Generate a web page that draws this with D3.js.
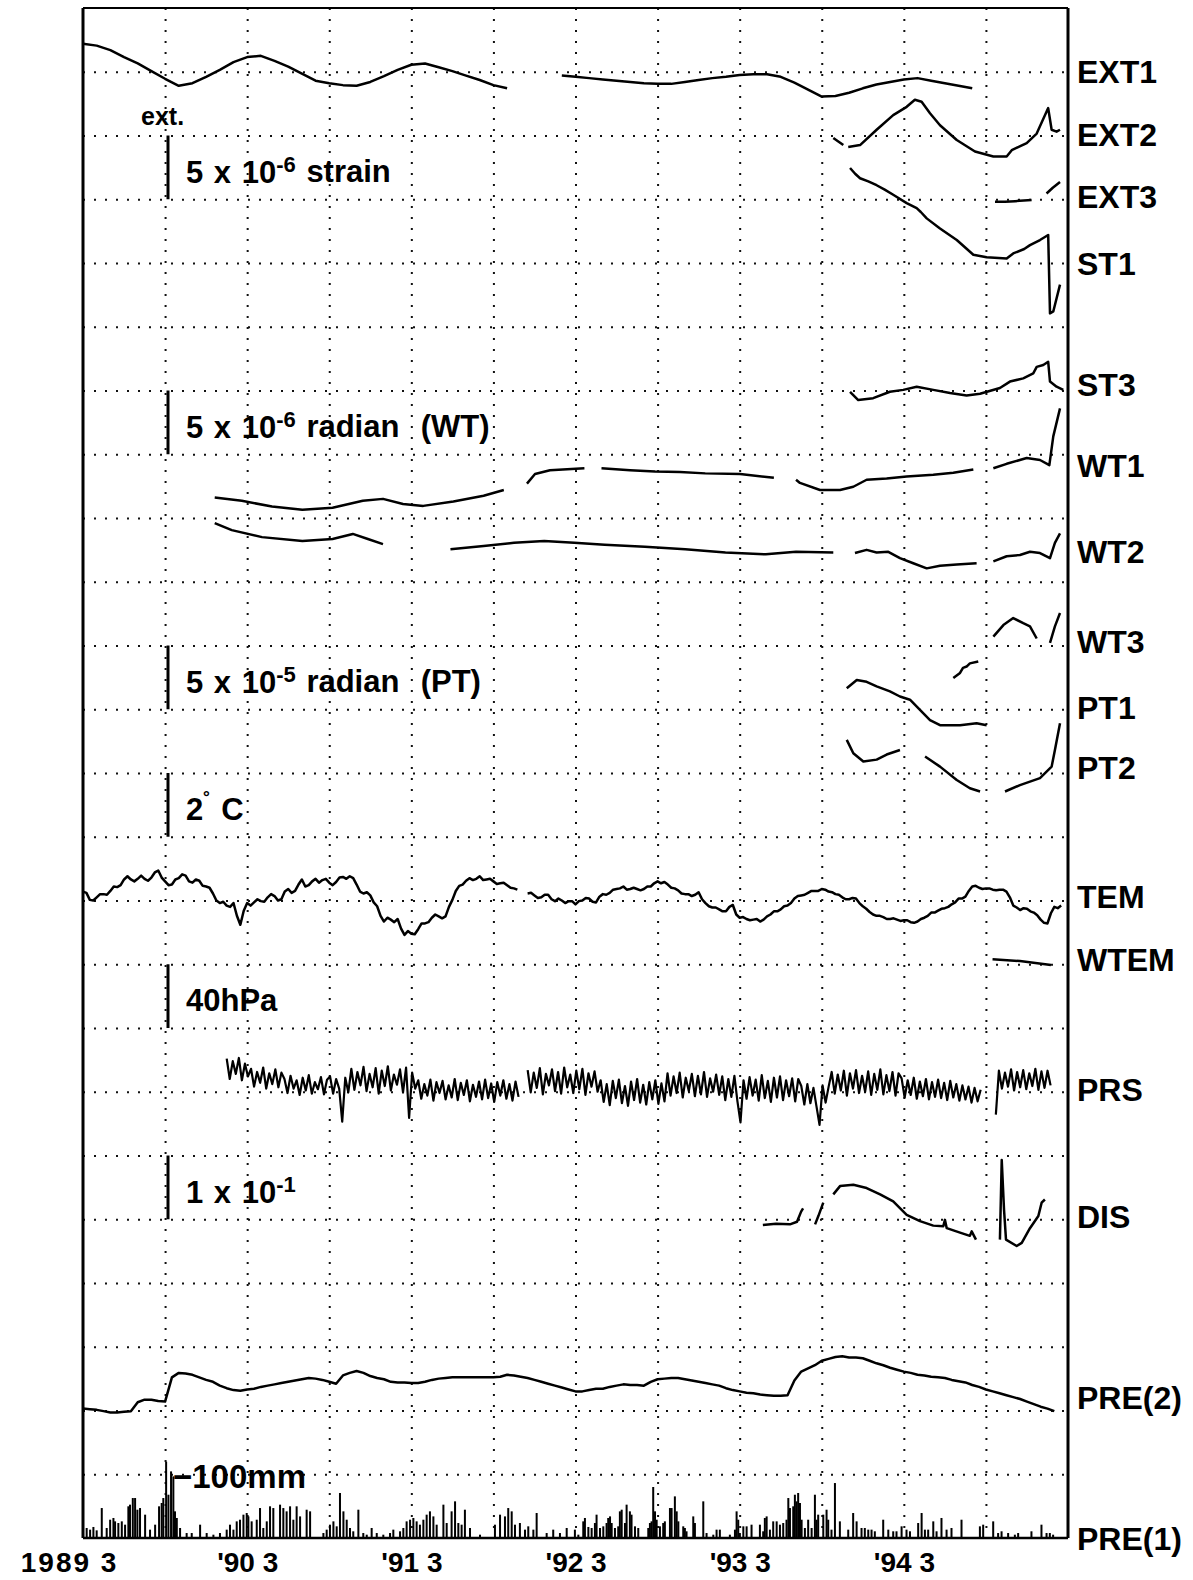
<!DOCTYPE html>
<html>
<head>
<meta charset="utf-8">
<script src="https://cdn.jsdelivr.net/npm/d3@7"></script>
<style>
body { margin: 0; background: #fff; }
svg { display: block; background: #fff; }
text { font-family: "Liberation Sans", Arial, Helvetica, sans-serif; font-weight: bold; fill: #000; white-space: pre; }
</style>
</head>
<body>
<div id="chart"></div>
<script>
// tick labels along the time axis (decimal years, March of each year)
var xTickYears = [1989.167, 1990.167, 1991.167, 1992.167, 1993.167, 1994.167];
var xTickLabels = ["1989 3", "'90 3", "'91 3", "'92 3", "'93 3", "'94 3"];

var traceNames = ["EXT1", "EXT2", "EXT3", "ST1", "ST3", "WT1", "WT2", "WT3",
                  "PT1", "PT2", "TEM", "WTEM", "PRS", "DIS", "PRE(2)", "PRE(1)"];

// values are in divisions of each trace's scale bar, positive = up
// EXT1: monthly from 1989-03
var ext1 = [0.44, 0.41, 0.34, 0.23, 0.13, 0.01, -0.11, -0.22, -0.18, -0.08, 0.03, 0.15,
  0.23, 0.25, 0.17, 0.08, -0.03, -0.14, -0.18, -0.21, -0.22, -0.16, -0.07, 0.03,
  0.11, 0.13, 0.07, 0.01, -0.06, -0.13, -0.21, -0.26, null, null, null, -0.06,
  -0.08, -0.10, -0.12, -0.14, -0.16, -0.18, -0.19, -0.19, -0.16, -0.13, -0.10, -0.08,
  -0.05, -0.04, -0.04, -0.08, -0.17, -0.28, -0.39, -0.38, -0.33, -0.26, -0.20, -0.16,
  -0.12, -0.10, -0.14, -0.18, -0.22, -0.26];

// [year, value] pairs, null = gap in record
var ext2 = [[1993.737, -0.04], [1993.798, -0.15], null, [1993.828, -0.18], [1993.900, -0.15],
  [1994.001, 0.09], [1994.102, 0.32], [1994.184, 0.45], [1994.234, 0.56], [1994.275, 0.53],
  [1994.326, 0.35], [1994.387, 0.16], [1994.489, -0.07], [1994.600, -0.25], [1994.712, -0.33],
  [1994.793, -0.33], [1994.824, -0.23], [1994.915, -0.12], [1994.976, 0.03], [1995.046, 0.43],
  [1995.067, 0.09], [1995.097, 0.06], [1995.118, 0.09]];

var ext3 = [[1994.722, -0.04], [1994.783, -0.04], [1994.844, -0.03], [1994.945, -0.01], null,
  [1995.036, 0.09], [1995.074, 0.18], [1995.118, 0.27]];

var st1 = [[1993.839, 1.49], [1993.870, 1.40], [1993.900, 1.33], [1993.950, 1.28], [1994.001, 1.22],
  [1994.050, 1.15], [1994.102, 1.07], [1994.184, 0.94], [1994.245, 0.86], [1994.270, 0.80],
  [1994.306, 0.70], [1994.387, 0.54], [1994.489, 0.36], [1994.590, 0.13], [1994.671, 0.09],
  [1994.793, 0.07], [1994.833, 0.15], [1994.900, 0.22], [1994.935, 0.28], [1994.996, 0.36],
  [1995.046, 0.44], [1995.057, -0.79], [1995.077, -0.76], [1995.118, -0.34]];

var st3 = [[1993.839, -0.02], [1993.889, -0.15], [1993.980, -0.12], [1994.082, -0.02],
  [1994.163, 0.01], [1994.245, 0.06], [1994.346, 0.01], [1994.448, -0.04], [1994.549, -0.08],
  [1994.631, -0.05], [1994.752, 0.04], [1994.813, 0.14], [1994.894, 0.19], [1994.955, 0.27],
  [1994.976, 0.37], [1995.016, 0.40], [1995.046, 0.45], [1995.057, 0.14], [1995.097, 0.06],
  [1995.138, 0.01]];

var wt1 = [[1989.969, -0.68], [1990.134, -0.73], [1990.318, -0.82], [1990.503, -0.87],
  [1990.687, -0.84], [1990.871, -0.73], [1990.994, -0.70], [1991.116, -0.78], [1991.239, -0.81],
  [1991.423, -0.74], [1991.607, -0.65], [1991.730, -0.56], null,
  [1991.871, -0.46], [1991.920, -0.31], [1992.011, -0.25], [1992.221, -0.22], null,
  [1992.325, -0.22], [1992.499, -0.25], [1992.651, -0.27], [1992.803, -0.28], [1992.957, -0.30],
  [1993.169, -0.31], [1993.375, -0.37], null,
  [1993.510, -0.40], [1993.534, -0.45], [1993.656, -0.56], [1993.778, -0.56], [1993.859, -0.51],
  [1993.940, -0.40], [1994.062, -0.38], [1994.184, -0.35], [1994.346, -0.32], [1994.468, -0.29],
  [1994.590, -0.24], null,
  [1994.712, -0.22], [1994.793, -0.15], [1994.915, -0.06], [1994.996, -0.09], [1995.053, -0.17],
  [1995.077, 0.28], [1995.118, 0.72]];

var wt2 = [[1989.969, 0.92], [1990.073, 0.81], [1990.257, 0.70], [1990.503, 0.64], [1990.687, 0.67],
  [1990.810, 0.75], [1990.902, 0.67], [1990.994, 0.59], null,
  [1991.405, 0.51], [1991.607, 0.56], [1991.792, 0.61], [1991.976, 0.64], [1992.159, 0.61],
  [1992.344, 0.58], [1992.589, 0.55], [1992.835, 0.51], [1993.080, 0.46], [1993.326, 0.43],
  [1993.510, 0.47], [1993.737, 0.46], null,
  [1993.869, 0.45], [1993.940, 0.50], [1994.001, 0.46], [1994.072, 0.47], [1994.143, 0.37],
  [1994.224, 0.29], [1994.306, 0.21], [1994.387, 0.25], [1994.489, 0.27], [1994.610, 0.29], null,
  [1994.712, 0.32], [1994.793, 0.40], [1994.874, 0.42], [1994.935, 0.47], [1994.996, 0.45],
  [1995.057, 0.37], [1995.087, 0.61], [1995.118, 0.76]];

var wt3 = [[1994.468, -0.51], [1994.509, -0.43], [1994.527, -0.35], [1994.549, -0.33],
  [1994.569, -0.28], [1994.620, -0.25], null,
  [1994.712, 0.14], [1994.773, 0.32], [1994.833, 0.43], [1994.894, 0.35], [1994.935, 0.30],
  [1994.976, 0.11], null, [1995.057, 0.04], [1995.087, 0.30], [1995.118, 0.51]];

var pt1 = [[1993.819, 0.33], [1993.880, 0.46], [1993.940, 0.43], [1994.001, 0.36], [1994.082, 0.28],
  [1994.143, 0.20], [1994.204, 0.15], [1994.265, -0.01], [1994.326, -0.17], [1994.387, -0.25],
  [1994.509, -0.25], [1994.610, -0.22], [1994.671, -0.25]];

var pt2 = [[1993.819, 0.52], [1993.859, 0.31], [1993.920, 0.18], [1994.001, 0.21], [1994.062, 0.29],
  [1994.143, 0.36], null,
  [1994.296, 0.26], [1994.387, 0.10], [1994.489, -0.11], [1994.569, -0.24], [1994.631, -0.29], null,
  [1994.783, -0.29], [1994.874, -0.19], [1994.996, -0.08], [1995.067, 0.10], [1995.087, 0.36],
  [1995.118, 0.78]];

// TEM: every 1/48 year from 1989-03
var tem = [0.14, 0.12, 0.01, 0.00, 0.05, 0.10, 0.10, 0.09, 0.15, 0.22, 0.21, 0.24,
  0.33, 0.38, 0.33, 0.30, 0.34, 0.39, 0.34, 0.31, 0.36, 0.44, 0.47, 0.36,
  0.30, 0.24, 0.25, 0.33, 0.35, 0.41, 0.39, 0.30, 0.28, 0.33, 0.31, 0.23,
  0.22, 0.20, 0.11, 0.00, -0.04, -0.02, -0.08, -0.10, -0.04, -0.24, -0.38, -0.16,
  -0.04, -0.08, -0.03, 0.02, -0.01, -0.02, 0.05, 0.10, 0.07, 0.00, 0.02, 0.14,
  0.18, 0.12, 0.15, 0.25, 0.33, 0.22, 0.24, 0.30, 0.34, 0.28, 0.32, 0.34,
  0.28, 0.24, 0.29, 0.36, 0.37, 0.34, 0.38, 0.35, 0.25, 0.14, 0.11, 0.13,
  0.08, -0.03, -0.09, -0.24, -0.33, -0.27, -0.30, -0.34, -0.29, -0.44, -0.54, -0.48,
  -0.52, -0.53, -0.45, -0.36, -0.36, -0.34, -0.27, -0.22, -0.25, -0.28, -0.25, -0.10,
  0.01, 0.15, 0.23, 0.25, 0.31, 0.35, 0.32, 0.34, 0.38, 0.32, 0.33, 0.34,
  0.30, 0.26, 0.27, 0.28, 0.24, 0.20, 0.19, 0.17, null, null, 0.11, 0.12,
  0.08, 0.04, 0.05, 0.09, 0.09, 0.02, -0.01, 0.03, 0.00, -0.04, -0.01, -0.01,
  -0.06, -0.01, 0.00, 0.04, 0.03, -0.02, -0.03, 0.06, 0.10, 0.09, 0.12, 0.17,
  0.18, 0.19, 0.22, 0.17, 0.18, 0.20, 0.18, 0.16, 0.18, 0.22, 0.22, 0.27,
  0.30, 0.27, 0.29, 0.25, 0.20, 0.19, 0.16, 0.11, 0.10, 0.10, 0.07, 0.09,
  0.13, 0.02, -0.04, -0.09, -0.11, -0.11, -0.14, -0.17, -0.17, -0.10, -0.07, -0.22,
  -0.27, -0.26, -0.29, -0.31, -0.30, -0.29, -0.33, -0.30, -0.25, -0.22, -0.17, -0.17,
  -0.14, -0.09, -0.08, -0.04, 0.03, 0.07, 0.08, 0.09, 0.12, 0.15, 0.15, 0.15,
  0.18, 0.17, 0.14, 0.13, 0.10, 0.09, 0.05, 0.02, 0.02, 0.04, 0.03, -0.04,
  -0.09, -0.13, -0.18, -0.22, -0.24, -0.24, -0.26, -0.29, -0.29, -0.28, -0.30, -0.32,
  -0.31, -0.31, -0.34, -0.35, -0.33, -0.29, -0.27, -0.24, -0.19, -0.19, -0.16, -0.13,
  -0.12, -0.10, -0.06, -0.03, 0.03, 0.03, 0.06, 0.15, 0.22, 0.23, 0.20, 0.18,
  0.19, 0.19, 0.17, 0.16, 0.17, 0.17, 0.14, 0.05, -0.08, -0.11, -0.15, -0.12,
  -0.13, -0.17, -0.19, -0.23, -0.30, -0.35, -0.36, -0.20, -0.10, -0.12, -0.08];

var wtem = [[1994.707, 0.08], [1994.874, 0.05], [1995.063, -0.01]];

// PRS: every 1/54 year from 1990.042
var prs = [0.52, 0.20, 0.48, 0.28, 0.53, 0.18, 0.44, 0.24,
  0.36, 0.08, 0.31, 0.14, 0.38, 0.05, 0.29, 0.12, 0.35, 0.07, 0.30,
  0.20, -0.02, 0.25, 0.05, 0.18, -0.05, 0.22, 0.02, 0.26, -0.03, 0.15, 0.04, 0.23, -0.04, 0.19,
  0.24, -0.03, 0.20, 0.05, -0.47, 0.22, -0.01,
  0.36, 0.03, 0.31, 0.10, 0.39, 0.01, 0.28, 0.07, 0.37, -0.03, 0.33, 0.09, 0.40, 0.02, 0.27,
  0.11, 0.35, -0.01, 0.38, -0.41, 0.30, 0.05,
  0.18, -0.11, 0.12, -0.06, 0.19, -0.14, 0.15, -0.02, 0.17, -0.12, 0.10, -0.09, 0.20, -0.13,
  0.14, -0.05, 0.18, -0.15, 0.11, -0.08, 0.16, -0.12, 0.19, -0.10, 0.13, -0.16, 0.15, -0.06,
  0.18, -0.11, 0.12, -0.14, 0.16, -0.08,
  null, null,
  0.34, -0.01, 0.30, 0.06, 0.37, -0.04, 0.28, 0.10, 0.35, 0.01, 0.31, -0.03, 0.38, 0.07,
  0.27, -0.02, 0.33, 0.04, 0.36, -0.05, 0.29, 0.08, 0.32, 0.00,
  0.18, -0.16, 0.12, -0.21, 0.17, -0.10, 0.19, -0.18, 0.09, -0.22, 0.16, -0.13, 0.20, -0.17,
  0.11, -0.20, 0.15, -0.12, 0.18, -0.19, 0.13, -0.15,
  0.29, -0.06, 0.24, -0.02, 0.30, -0.09, 0.22, 0.01, 0.28, -0.07, 0.25, -0.04, 0.31, -0.08,
  0.21, 0.00, 0.27, -0.05,
  0.24, -0.13, 0.20, -0.08, 0.25, -0.15, -0.48, 0.18, -0.11, 0.23, -0.06, 0.19, -0.14, 0.26,
  -0.10, 0.17, -0.16, 0.22, -0.09, 0.24, -0.13, 0.18, -0.07, 0.21, -0.15, 0.20,
  0.09, -0.20, 0.12, -0.18, 0.06, -0.23, -0.52, 0.10, -0.17, 0.08,
  0.31, -0.03, 0.27, 0.02, 0.33, -0.06, 0.29, 0.05, 0.34, -0.02, 0.25, 0.00, 0.32, -0.05,
  0.28, 0.03, 0.35, -0.04, 0.26, 0.01, 0.31, -0.06, 0.29,
  0.21, -0.09, 0.18, -0.05, 0.22, -0.11, 0.16, -0.07, 0.20, -0.12, 0.15, -0.08, 0.19, -0.10,
  0.14, -0.13, 0.17, -0.09, 0.12, -0.14, 0.10, -0.12, 0.08, -0.17, 0.06, -0.15, 0.03,
  null, null, null, null,
  -0.36, 0.33, 0.05, 0.30, 0.08, 0.35, 0.02, 0.31, 0.07, 0.34, 0.04, 0.29, 0.09, 0.36,
  0.03, 0.32, 0.06, 0.33, 0.10];

var dis = [[1993.308, -0.09], [1993.388, -0.07], [1993.473, -0.08], [1993.516, -0.04],
  [1993.541, 0.12], [1993.553, 0.17], null,
  [1993.626, -0.08], [1993.646, 0.05], [1993.676, 0.26], null,
  [1993.737, 0.39], [1993.778, 0.52], [1993.859, 0.54], [1993.940, 0.49], [1994.022, 0.39],
  [1994.102, 0.28], [1994.184, 0.07], [1994.265, -0.03], [1994.346, -0.10], [1994.407, -0.11],
  [1994.417, -0.01], [1994.428, -0.14], [1994.509, -0.21], [1994.569, -0.26], [1994.580, -0.19],
  [1994.606, -0.32], null,
  [1994.752, -0.32], [1994.763, 0.93], [1994.777, 0.15], [1994.789, -0.32], [1994.854, -0.42],
  [1994.885, -0.37], [1994.935, -0.14], [1994.986, 0.05], [1995.006, 0.26], [1995.026, 0.31]];

// PRE(2): every half month from 1989-03
var pre2 = [0.03, 0.02, 0.01, -0.01, -0.03, -0.03, -0.02, -0.01, 0.13, 0.17, 0.17, 0.15,
  0.14, 0.52, 0.59, 0.58, 0.56, 0.52, 0.48, 0.45, 0.39, 0.35, 0.32, 0.31,
  0.33, 0.34, 0.37, 0.39, 0.41, 0.43, 0.45, 0.47, 0.49, 0.51, 0.50, 0.48,
  0.45, 0.42, 0.55, 0.59, 0.62, 0.59, 0.54, 0.51, 0.49, 0.45, 0.44, 0.44,
  0.43, 0.43, 0.45, 0.48, 0.50, 0.51, 0.52, 0.52, 0.52, 0.52, 0.52, 0.52,
  0.52, 0.53, 0.56, 0.55, 0.53, 0.51, 0.48, 0.45, 0.42, 0.39, 0.36, 0.33,
  0.30, 0.30, 0.32, 0.34, 0.34, 0.37, 0.39, 0.41, 0.40, 0.40, 0.39, 0.45,
  0.49, 0.50, 0.51, 0.51, 0.49, 0.47, 0.45, 0.43, 0.41, 0.39, 0.35, 0.32,
  0.30, 0.28, 0.27, 0.25, 0.24, 0.23, 0.23, 0.24, 0.47, 0.61, 0.66, 0.71,
  0.78, 0.81, 0.84, 0.85, 0.83, 0.83, 0.82, 0.78, 0.74, 0.71, 0.67, 0.64,
  0.61, 0.59, 0.56, 0.55, 0.53, 0.52, 0.51, 0.48, 0.46, 0.44, 0.40, 0.37,
  0.33, 0.30, 0.27, 0.24, 0.21, 0.18, 0.14, 0.10, 0.06, 0.03, -0.01];

// PRE(1): daily rainfall, year of the rainy day and millimetres
var rainT = [1989.189, 1989.210, 1989.230, 1989.250, 1989.281, 1989.311, 1989.332, 1989.352,
  1989.362, 1989.382, 1989.403, 1989.423, 1989.443, 1989.453, 1989.470, 1989.484, 1989.498,
  1989.514, 1989.545, 1989.575, 1989.606, 1989.630, 1989.646, 1989.656, 1989.673, 1989.687,
  1989.703, 1989.717, 1989.727, 1989.738, 1989.758, 1989.798, 1989.829, 1989.880, 1989.920,
  1989.961, 1990.001, 1990.042, 1990.062, 1990.083, 1990.103, 1990.123, 1990.144, 1990.164,
  1990.174, 1990.194, 1990.225, 1990.245, 1990.265, 1990.286, 1990.306, 1990.326, 1990.367,
  1990.387, 1990.407, 1990.428, 1990.448, 1990.468, 1990.489, 1990.529, 1990.550, 1990.631,
  1990.651, 1990.671, 1990.692, 1990.712, 1990.732, 1990.753, 1990.773, 1990.793, 1990.813,
  1990.844, 1990.874, 1990.895, 1990.925, 1990.956, 1990.996, 1991.037, 1991.057, 1991.098,
  1991.118, 1991.138, 1991.159, 1991.179, 1991.199, 1991.219, 1991.240, 1991.260, 1991.280,
  1991.301, 1991.321, 1991.362, 1991.382, 1991.412, 1991.433, 1991.453, 1991.473, 1991.493,
  1991.524, 1991.585, 1991.676, 1991.707, 1991.737, 1991.757, 1991.778, 1991.798, 1991.828,
  1991.859, 1991.879, 1991.910, 1991.930, 1991.991, 1992.031, 1992.072, 1992.113, 1992.163,
  1992.184, 1992.214, 1992.224, 1992.245, 1992.265, 1992.285, 1992.295, 1992.316, 1992.336,
  1992.356, 1992.366, 1992.377, 1992.387, 1992.407, 1992.427, 1992.437, 1992.448, 1992.468,
  1992.478, 1992.498, 1992.508, 1992.529, 1992.549, 1992.610, 1992.620, 1992.630, 1992.640,
  1992.651, 1992.661, 1992.681, 1992.701, 1992.711, 1992.742, 1992.752, 1992.772, 1992.783,
  1992.793, 1992.823, 1992.833, 1992.843, 1992.884, 1992.894, 1992.945, 1992.965, 1993.006,
  1993.026, 1993.046, 1993.107, 1993.138, 1993.148, 1993.158, 1993.168, 1993.189, 1993.209,
  1993.239, 1993.290, 1993.310, 1993.320, 1993.331, 1993.351, 1993.371, 1993.392, 1993.412,
  1993.432, 1993.452, 1993.463, 1993.473, 1993.493, 1993.503, 1993.513, 1993.523, 1993.534,
  1993.544, 1993.564, 1993.584, 1993.605, 1993.625, 1993.635, 1993.645, 1993.676, 1993.696,
  1993.706, 1993.726, 1993.747, 1993.777, 1993.828, 1993.858, 1993.879, 1993.909, 1993.929,
  1993.950, 1993.970, 1993.990, 1994.041, 1994.072, 1994.102, 1994.122, 1994.153, 1994.183,
  1994.204, 1994.254, 1994.275, 1994.295, 1994.315, 1994.346, 1994.366, 1994.396, 1994.427,
  1994.457, 1994.518, 1994.630, 1994.650, 1994.711, 1994.741, 1994.762, 1994.802, 1994.843,
  1994.863, 1994.944, 1995.005, 1995.036, 1995.056, 1995.076];
var rainMm = [15.7, 13.1, 17.3, 12.0, 47.0, 15.7, 28.7, 31.4,
  26.1, 23.5, 26.1, 20.9, 49.7, 52.3, 62.7, 62.7, 44.4,
  47.0, 36.6, 13.1, 20.9, 49.7, 54.9, 62.7, 119.7, 67.9,
  104.5, 96.7, 41.8, 31.4, 15.7, 7.8, 7.8, 20.9, 7.8,
  5.2, 7.8, 13.1, 20.9, 13.1, 26.1, 28.7, 36.6, 39.2,
  33.9, 26.1, 28.7, 47.0, 15.7, 26.1, 49.7, 47.0, 52.3,
  47.0, 41.8, 49.7, 28.7, 49.7, 33.9, 44.4, 41.8, 7.8,
  13.1, 20.9, 26.1, 18.3, 70.6, 41.8, 28.7, 15.7, 10.5,
  44.4, 7.8, 5.2, 15.7, 7.8, 5.2, 7.8, 13.1, 10.5,
  15.7, 26.1, 28.7, 31.4, 26.1, 20.9, 28.7, 36.6, 41.8,
  33.9, 20.9, 52.3, 23.5, 41.8, 57.5, 23.5, 20.9, 44.4,
  15.7, 5.2, 20.9, 36.6, 33.9, 47.0, 41.8, 20.9, 23.5,
  13.1, 18.3, 13.1, 39.2, 7.8, 13.1, 7.8, 15.7, 13.1,
  5.2, 26.1, 31.4, 17.3, 15.7, 23.5, 36.6, 15.7, 18.3,
  23.5, 31.4, 33.9, 23.5, 15.7, 18.3, 41.8, 44.4, 23.5,
  52.3, 41.8, 36.6, 18.3, 15.7, 15.7, 23.5, 26.1, 80.0,
  41.8, 28.7, 18.3, 23.5, 26.1, 47.0, 47.0, 65.3, 41.8,
  26.1, 18.3, 15.7, 10.5, 33.9, 23.5, 57.5, 7.8, 5.2,
  13.1, 13.1, 5.2, 13.1, 41.8, 28.7, 7.8, 18.3, 18.3,
  20.9, 20.9, 10.5, 31.4, 33.9, 13.1, 26.1, 26.1, 20.9,
  23.5, 28.7, 62.7, 47.0, 49.7, 67.9, 57.5, 70.6, 54.9,
  28.7, 15.7, 28.7, 15.7, 67.9, 28.7, 36.6, 36.6, 44.4,
  28.7, 13.1, 86.2, 26.1, 13.1, 39.2, 26.1, 15.7, 15.7,
  13.1, 13.1, 10.5, 28.7, 13.1, 10.5, 10.5, 18.3, 13.1,
  10.5, 23.5, 39.2, 13.1, 13.1, 26.1, 10.5, 31.4, 13.1,
  15.7, 28.7, 18.3, 20.9, 26.1, 7.8, 10.5, 7.8, 5.2,
  7.8, 10.5, 20.9, 7.8, 7.8, 5.2];

// ---- layout ----
var W = 1193, H = 1580;
var plotL = 83, plotR = 1068, plotT = 8, plotB = 1538;

var svg = d3.select("#chart").append("svg")
    .attr("width", W)
    .attr("height", H);

var x = d3.scaleLinear()
    .domain([1989 + 2 / 12, 1995 + 2 / 12])
    .range([plotL, plotR]);

// one unit = one grid division, rows counted downward from EXT1
var y = d3.scaleLinear()
    .domain([-1, 23])
    .range([plotT, plotB]);

// dotted grid: every half year and every division
var halfYears = d3.range(1, 12).map(function(k) { return 1989 + 2 / 12 + k / 2; });
var gx = svg.append("g")
    .attr("transform", "translate(0," + plotT + ")")
    .call(d3.axisBottom(x).tickValues(halfYears).tickSize(plotB - plotT).tickFormat(""));
gx.select(".domain").remove();

var gy = svg.append("g")
    .attr("transform", "translate(" + plotL + ",0)")
    .call(d3.axisRight(y).tickValues(d3.range(0, 23)).tickSize(plotR - plotL).tickFormat(""));
gy.select(".domain").remove();

svg.selectAll(".tick line")
    .attr("stroke", "#111")
    .attr("stroke-width", 2)
    .attr("stroke-dasharray", "2,9");

// frame
svg.append("line").attr("x1", plotL).attr("x2", plotL).attr("y1", plotT).attr("y2", plotB)
    .attr("stroke", "#000").attr("stroke-width", 3);
svg.append("line").attr("x1", plotR).attr("x2", plotR).attr("y1", plotT).attr("y2", plotB)
    .attr("stroke", "#000").attr("stroke-width", 3);
svg.append("line").attr("x1", plotL).attr("x2", plotR).attr("y1", plotT).attr("y2", plotT)
    .attr("stroke", "#000").attr("stroke-width", 2);
svg.append("line").attr("x1", plotL).attr("x2", plotR).attr("y1", plotB).attr("y2", plotB)
    .attr("stroke", "#000").attr("stroke-width", 2.5);

// time axis labels
var gt = svg.append("g")
    .attr("transform", "translate(0," + plotB + ")")
    .call(d3.axisBottom(x).tickValues(xTickYears).tickSize(0).tickPadding(14)
        .tickFormat(function(d, i) { return xTickLabels[i]; }));
gt.select(".domain").remove();
gt.selectAll("text")
    .style("font-size", "28px")
    .style("font-family", "'Liberation Sans', Arial, sans-serif")
    .style("font-weight", "bold")
    .attr("fill", "#000")
    .style("letter-spacing", function(d, i) { return i === 0 ? "2px" : null; })
    .attr("dx", function(d, i) { return i === 0 ? -14 : 0; });

// turn regularly sampled arrays into [year, value] pairs
function sampled(start, step, vals) {
    return vals.map(function(v, i) { return v === null ? null : [start + i * step, v]; });
}

var t0 = 1989 + 2 / 12;
var traces = [
    { data: sampled(t0, 1 / 12, ext1), row: 0 },
    { data: ext2, row: 1 },
    { data: ext3, row: 2 },
    { data: st1, row: 3 },
    { data: st3, row: 5 },
    { data: wt1, row: 6 },
    { data: wt2, row: 8 },
    { data: wt3, row: 9 },
    { data: pt1, row: 10 },
    { data: pt2, row: 11 },
    { data: sampled(t0, 1 / 48, tem), row: 13 },
    { data: wtem, row: 14 },
    { data: sampled(1990.042, 1 / 54, prs), row: 16, w: 2.2 },
    { data: dis, row: 18 },
    { data: sampled(t0, 1 / 24, pre2), row: 21 }
];

traces.forEach(function(tr) {
    var line = d3.line()
        .defined(function(d) { return d !== null; })
        .x(function(d) { return x(d[0]); })
        .y(function(d) { return y(tr.row - d[1]); });
    svg.append("path")
        .datum(tr.data)
        .attr("d", line)
        .attr("fill", "none")
        .attr("stroke", "#000")
        .attr("stroke-width", tr.w || 2.5)
        .attr("stroke-linejoin", "round");
});

// PRE(1) rainfall bars, 100 mm per division
svg.append("g").selectAll("rect")
    .data(rainT)
    .enter()
    .append("rect")
    .attr("x", function(d) { return x(d) - 1; })
    .attr("width", 2)
    .attr("y", function(d, i) { return y(23 - rainMm[i] / 100); })
    .attr("height", function(d, i) { return y(23) - y(23 - rainMm[i] / 100); })
    .attr("fill", "#000");

// trace names on the right
var nameRows = [0.0, 0.98, 1.96, 3.0, 4.91, 6.18, 7.53, 8.93, 9.98, 10.92, 12.94, 13.93, 15.96, 17.96, 20.8, 23.0];
svg.append("g").selectAll("text")
    .data(traceNames)
    .enter()
    .append("text")
    .attr("x", 1077)
    .attr("y", function(d, i) { return y(nameRows[i]); })
    .attr("dy", "0.36em")
    .style("font-size", "32px")
    .text(function(d) { return d; });

// scale bars with their captions
var bars = [
    { from: 1, to: 2, parts: [["5 x 10"], ["-6", 1], [" strain"]] },
    { from: 5, to: 6, parts: [["5 x 10"], ["-6", 1], [" radian  (WT)"]] },
    { from: 9, to: 10, parts: [["5 x 10"], ["-5", 1], [" radian  (PT)"]] },
    { from: 11, to: 12, parts: [["2"], ["\u02DA", 1], [" C"]] },
    { from: 14, to: 15, parts: [["40hPa"]] },
    { from: 17, to: 18, parts: [["1 x 10"], ["-1", 1]] }
];

bars.forEach(function(b) {
    svg.append("line")
        .attr("x1", 168).attr("x2", 168)
        .attr("y1", y(b.from)).attr("y2", y(b.to))
        .attr("stroke", "#000").attr("stroke-width", 3);
    var t = svg.append("text")
        .attr("x", 186)
        .attr("y", (y(b.from) + y(b.to)) / 2 + 4)
        .attr("dy", "0.36em")
        .style("font-size", "31px")
        .style("word-spacing", "2px");
    b.parts.forEach(function(p, k) {
        var s = t.append("tspan").text(p[0]);
        if (p[1]) {
            s.attr("dy", "-0.5em").style("font-size", "22px");
        } else if (k > 0) {
            s.attr("dy", "0.35em");
        }
    });
});

svg.append("text")
    .attr("x", 141)
    .attr("y", 125)
    .style("font-size", "25px")
    .text("ext.");

svg.append("text")
    .attr("x", 173)
    .attr("y", y(22) + 2)
    .attr("dy", "0.36em")
    .style("font-size", "33px")
    .text("\u2212100mm");
</script>
</body>
</html>
